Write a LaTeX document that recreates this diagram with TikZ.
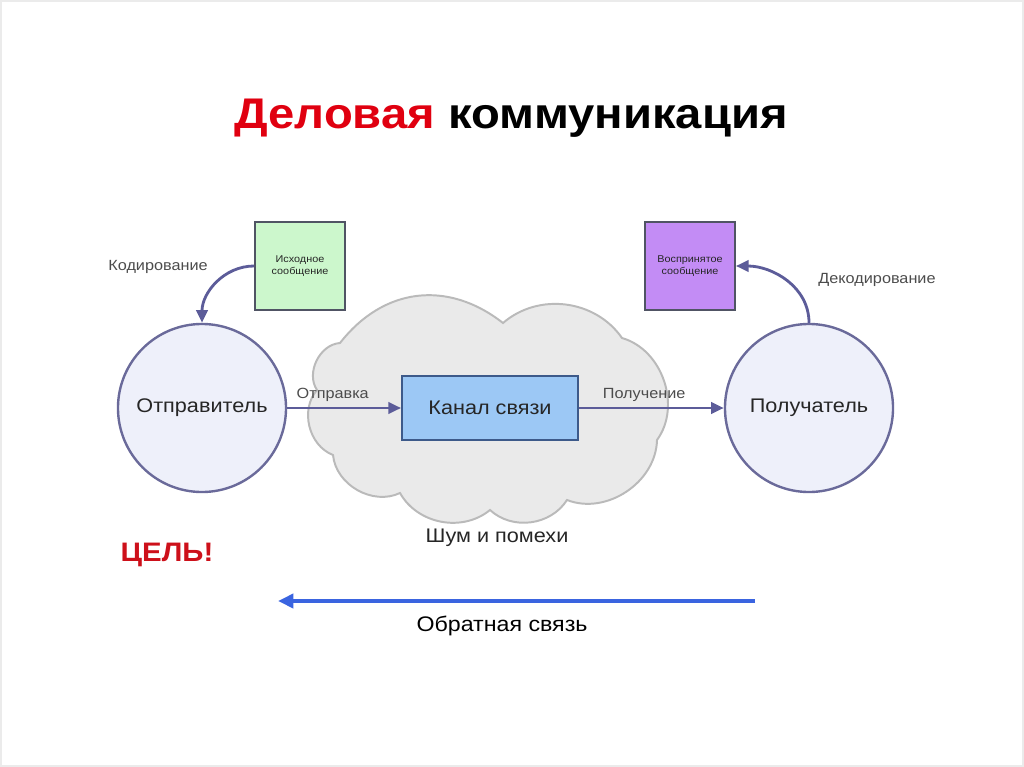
\documentclass[tikz,border=0pt]{standalone}
\usepackage{fontspec}
\setmainfont{Liberation Sans}[FakeStretch=1.1]
\usetikzlibrary{arrows.meta,positioning}
\definecolor{titlered}{RGB}{224,0,16}
\definecolor{goalred}{RGB}{205,16,26}
\definecolor{personfill}{RGB}{238,240,250}
\definecolor{personedge}{RGB}{106,106,154}
\definecolor{linkcol}{RGB}{92,92,153}
\definecolor{srcfill}{RGB}{204,247,204}
\definecolor{percfill}{RGB}{195,140,245}
\definecolor{boxedge}{RGB}{80,84,100}
\definecolor{chanfill}{RGB}{156,200,245}
\definecolor{chanedge}{RGB}{61,90,138}
\definecolor{cloudfill}{RGB}{234,234,234}
\definecolor{cloudedge}{RGB}{186,186,186}
\definecolor{fbblue}{RGB}{58,100,224}

\begin{document}
\begin{tikzpicture}[x=0.025cm,y=0.025cm,
  every node/.style={font=\fontsize{10.5}{12}\selectfont,text=black!85},
  person/.style={circle,draw=personedge,fill=personfill,line width=1.7pt,minimum size=4.2cm,inner sep=0pt,font=\fontsize{14}{16}\selectfont},
  msgbox/.style={rectangle,draw=boxedge,line width=1.3pt,minimum width=2.25cm,minimum height=2.2cm,align=center,inner sep=1pt,font=\fontsize{7}{8.5}\selectfont},
  link/.style={draw=linkcol,line width=2pt,-{Triangle[length=9pt,width=8pt]}},
  lbl/.style={text=black!70}]
\useasboundingbox (0,0) rectangle (1024,-767);
\draw[black!8,line width=0.8pt] (1,-1) rectangle (1023,-766);

% title
\node[anchor=base,font=\bfseries\fontsize{30.5}{36}\selectfont,text=black] (title) at (511,-129)
  {\textcolor{titlered}{Деловая} коммуникация};

% noise cloud
\draw[fill=cloudfill,draw=cloudedge,line width=1.4pt]
  (340,-343) to[bend left=45,looseness=1.1] (503,-323)
  to[bend left=48] (622,-338)
  to[bend left=55] (657,-440)
  to[bend left=55] (567,-500)
  to[bend left=50] (490,-510)
  to[bend left=50] (400,-493)
  to[bend left=55] (333,-455)
  to[bend left=55] (317,-390)
  to[bend left=60] (340,-343) -- cycle;
\node (noise) at (497,-538) {\fontsize{14}{16}\selectfont Шум и помехи};

% people and channel
\node[person] (send) at (202,-408) {Отправитель};
\node[person] (recv) at (809,-408) {Получатель};
\node[draw=chanedge,fill=chanfill,line width=1.3pt,minimum width=4.4cm,minimum height=1.6cm,
  font=\fontsize{14}{16}\selectfont] (chan) at (490,-408) {Канал связи};

% messages
\node[msgbox,fill=srcfill] (src) at (300,-266) {Исходное\\сообщение};
\node[msgbox,fill=percfill] (perc) at (690,-266) {Воспринятое\\сообщение};

\draw[link] (send.east) -- node[lbl,above,pos=0.4] {Отправка} (chan.west);
\draw[link] (chan.east) -- node[lbl,above,pos=0.45] {Получение} (recv.west);
\draw[link] (src.west) to[out=180,in=90] (send.north);
\node[lbl] (codlbl) at (158,-267) {Кодирование};
\draw[link] (recv.north) to[out=90,in=0] (perc.east);
\node[lbl] (declbl) at (877,-280) {Декодирование};

% goal and feedback
\node[font=\bfseries\fontsize{19}{21}\selectfont,text=goalred] (goal) at (167,-555) {ЦЕЛЬ!};
\coordinate (fbfrom) at (755,-601);
\coordinate (fbto) at (278,-601);
\draw[draw=fbblue,line width=2.8pt,-{Triangle[length=11pt,width=10pt]}] (fbfrom) -- (fbto);
\node[text=black] (fblabel) at (502,-626) {\fontsize{15}{17}\selectfont Обратная связь};
\end{tikzpicture}
\end{document}
